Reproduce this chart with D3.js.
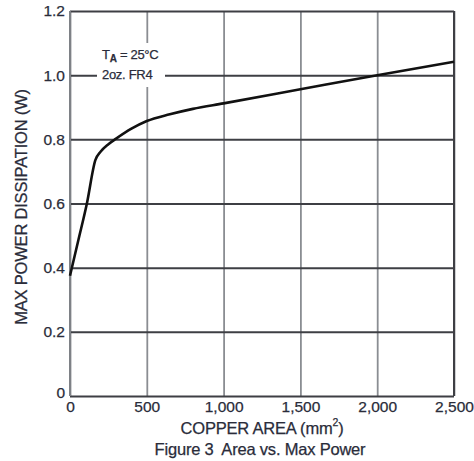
<!DOCTYPE html>
<html><head><meta charset="utf-8">
<script src="https://cdn.jsdelivr.net/npm/d3@7"></script>
<style>
body{margin:0;background:#fff;}
text{font-family:"Liberation Sans",Arial,sans-serif;fill:#2a2c3a;stroke:#2a2c3a;stroke-width:0.25px;}
</style></head>
<body><svg id="c" width="474" height="461"></svg>
<script>
const areaX = [0, 55, 110, 165, 200, 250, 300, 400, 500, 650, 800, 1000, 1500, 2000, 2500];
const powerY = [0.375, 0.487, 0.6, 0.735, 0.762, 0.785, 0.802, 0.833, 0.857, 0.878, 0.895, 0.912, 0.956, 1.0, 1.042];
const xTicks = [0, 500, 1000, 1500, 2000, 2500];
const xTickLabels = ["0", "500", "1,000", "1,500", "2,000", "2,500"];
const yTicks = [0, 0.2, 0.4, 0.6, 0.8, 1.0, 1.2];
const yTickLabels = ["0", "0.2", "0.4", "0.6", "0.8", "1.0", "1.2"];

const svg = d3.select("#c");
const L = 70, R = 454, T = 11, B = 396;
const x = d3.scaleLinear().domain([0, 2500]).range([L, R]);
const y = d3.scaleLinear().domain([0, 1.2]).range([B, T]);

// vertical grid
const gx = svg.append("g").attr("transform", `translate(0,${B})`)
  .call(d3.axisBottom(x).tickValues(xTicks).tickSize(-(B - T)).tickPadding(5)
    .tickFormat((d, i) => xTickLabels[i]));
gx.select(".domain").remove();
gx.selectAll("line").attr("stroke", "#8a8d92").attr("stroke-width", 1.8);
gx.selectAll("text").attr("font-size", 15.5).style("fill", "#2a2c3a");

// horizontal grid
const gy = svg.append("g").attr("transform", `translate(${L},0)`)
  .call(d3.axisLeft(y).tickValues(yTicks).tickSize(-(R - L)).tickPadding(5)
    .tickFormat((d, i) => yTickLabels[i]));
gy.select(".domain").remove();
gy.selectAll("line").attr("stroke", "#3e3f44").attr("stroke-width", 2);
gy.selectAll("text").attr("font-size", 15.5).style("fill", "#2a2c3a");
gy.selectAll(".tick").filter(d => d === 0).select("text").attr("dy", "0.1em");

// borders
svg.append("line").attr("x1", L).attr("x2", L).attr("y1", T).attr("y2", B)
  .attr("stroke", "#7e8186").attr("stroke-width", 2);
svg.append("line").attr("x1", R).attr("x2", R).attr("y1", T).attr("y2", B)
  .attr("stroke", "#3e3f44").attr("stroke-width", 2);

// annotation background
svg.append("rect").attr("x", 97).attr("y", 43).attr("width", 68).attr("height", 44).attr("fill", "#fff");
const ann = svg.append("text").attr("x", 102).attr("y", 59).attr("font-size", 13).attr("letter-spacing", -0.3);
ann.append("tspan").text("T");
ann.append("tspan").attr("font-size", 10).attr("dy", 3).attr("font-weight", "bold").text("A");
ann.append("tspan").attr("dy", -3).text(" = 25°C");
svg.append("text").attr("x", 102).attr("y", 79).attr("font-size", 13).attr("letter-spacing", -0.3).text("2oz. FR4");

// curve
const line = d3.line().x((d, i) => x(areaX[i])).y((d, i) => y(powerY[i])).curve(d3.curveMonotoneX);
svg.append("path").datum(powerY).attr("d", line).attr("fill", "none")
  .attr("stroke", "#111").attr("stroke-width", 2.6);

// titles
const xt = svg.append("text").attr("x", 262).attr("y", 434).attr("text-anchor", "middle")
  .attr("font-size", 16.5).attr("letter-spacing", -0.2);
xt.append("tspan").text("COPPER AREA (mm");
xt.append("tspan").attr("font-size", 10.5).attr("dy", -8).text("2");
xt.append("tspan").attr("dy", 8).text(")");
svg.append("text").attr("x", 260).attr("y", 455).attr("text-anchor", "middle")
  .style("white-space", "pre")
  .attr("font-size", 16.5).attr("letter-spacing", -0.2).text("Figure 3  Area vs. Max Power");
svg.append("text").attr("transform", "translate(27,207) rotate(-90)").attr("text-anchor", "middle")
  .attr("font-size", 16.5).attr("letter-spacing", -0.2).text("MAX POWER DISSIPATION (W)");
</script></body></html>
